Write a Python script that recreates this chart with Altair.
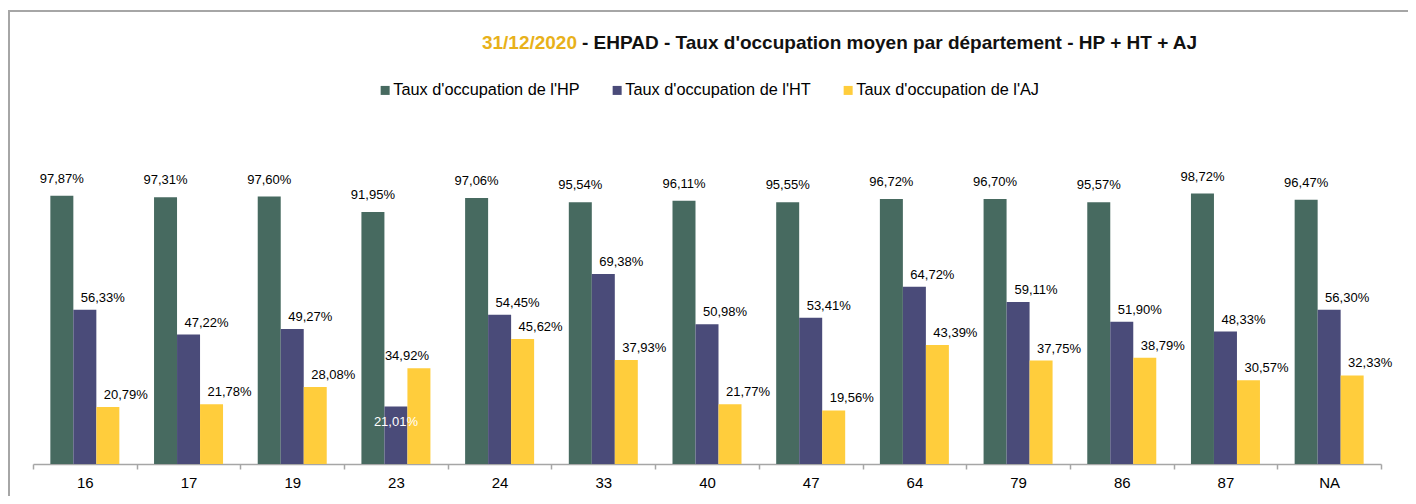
import altair as alt
import pandas as pd

departements = ["16", "17", "19", "23", "24", "33", "40", "47", "64", "79", "86", "87", "NA"]
taux_hp = [97.87, 97.31, 97.60, 91.95, 97.06, 95.54, 96.11, 95.55, 96.72, 96.70, 95.57, 98.72, 96.47]
taux_ht = [56.33, 47.22, 49.27, 21.01, 54.45, 69.38, 50.98, 53.41, 64.72, 59.11, 51.90, 48.33, 56.30]
taux_aj = [20.79, 21.78, 28.08, 34.92, 45.62, 37.93, 21.77, 19.56, 43.39, 37.75, 38.79, 30.57, 32.33]
series = ["Taux d'occupation de l'HP", "Taux d'occupation de l'HT", "Taux d'occupation de l'AJ"]
colors = ["#476a60", "#4a4b79", "#ffcd3c"]

rows = []
for i, d in enumerate(departements):
    for s, vals in zip(series, [taux_hp, taux_ht, taux_aj]):
        v = vals[i]
        rows.append({"dep": d, "serie": s, "taux": v,
                     "label": f"{v:.2f}".replace(".", ",") + "%"})
df = pd.DataFrame(rows)

W, H = 1348, 274
FONT = "Liberation Sans"

x = alt.X("dep:N", sort=departements, title=None,
          scale=alt.Scale(paddingInner=0, paddingOuter=0),
          axis=alt.Axis(labelAngle=0, labelFontSize=15, labelColor="#000000", labelFont=FONT,
                        domainColor="#a6a6a6", domainWidth=1.5, tickColor="#a6a6a6", tickWidth=1.5,
                        tickSize=5, tickBand="extent", labelPadding=6, grid=False))
xo = alt.XOffset("serie:N", sort=series, scale=alt.Scale(paddingOuter=0.754, paddingInner=0))
y = alt.Y("taux:Q", scale=alt.Scale(domain=[0, 100]), axis=None)

base = alt.Chart(df)

bars = base.mark_bar(size=23).encode(
    x=x, xOffset=xo, y=y,
    color=alt.Color("serie:N", sort=series, scale=alt.Scale(domain=series, range=colors),
                    legend=alt.Legend(title=None, orient="none", legendX=344, legendY=-108,
                                      direction="horizontal", symbolType="square", symbolSize=81,
                                      symbolStrokeWidth=0, labelFontSize=16.3, labelFont=FONT,
                                      labelColor="#000000", labelOffset=0, columnPadding=29,
                                      labelLimit=0, padding=0, symbolOpacity=1)),
)

lbl_common = dict(fontSize=13, font=FONT, color="#000000", baseline="alphabetic")

hp_labels = base.transform_filter(alt.datum.serie == series[0]).mark_text(dy=-13, **lbl_common).encode(
    x=x, xOffset=xo, y=y, text="label:N")
other_labels = base.transform_filter(
    (alt.datum.serie != series[0]) & (alt.datum.dep != "23")
).mark_text(dx=18, dy=-8, **lbl_common).encode(x=x, xOffset=xo, y=y, text="label:N")
aj23 = base.transform_filter(
    (alt.datum.serie == series[2]) & (alt.datum.dep == "23")
).mark_text(dx=-12, dy=-8, **lbl_common).encode(x=x, xOffset=xo, y=y, text="label:N")
ht23 = base.transform_filter(
    (alt.datum.serie == series[1]) & (alt.datum.dep == "23")
).mark_text(dy=20, fontSize=13, font=FONT, color="#ffffff", baseline="alphabetic").encode(
    x=x, xOffset=xo, y=y, text="label:N")

one = pd.DataFrame({"a": [1]})
title_gold = alt.Chart(one).mark_text(text="31/12/2020", align="right", baseline="alphabetic",
                                      fontSize=19, fontWeight="bold", font=FONT, color="#e8b11a").encode(
    x=alt.value(544), y=alt.value(-141))
title_rest = alt.Chart(one).mark_text(text="- EHPAD - Taux d'occupation moyen par département - HP + HT + AJ",
                                      align="left", baseline="alphabetic",
                                      fontSize=19, fontWeight="bold", font=FONT, color="#111111").encode(
    x=alt.value(549), y=alt.value(-141))
frame = alt.Chart(one).mark_rect(fillOpacity=0, stroke="#a6a6a6", strokeWidth=2).encode(
    x=alt.value(-24), x2=alt.value(1377), y=alt.value(-179), y2=alt.value(400))

chart = alt.layer(frame, bars, hp_labels, other_labels, aj23, ht23, title_gold, title_rest).properties(
    width=W, height=H,
    autosize=alt.AutoSizeParams(type="none"),
    padding={"left": 25, "top": 182, "right": 27, "bottom": 32},
).configure(background="#ffffff").configure_view(stroke=None, strokeWidth=0)

chart.save("out.html", embed_options={"renderer": "svg", "actions": False})
